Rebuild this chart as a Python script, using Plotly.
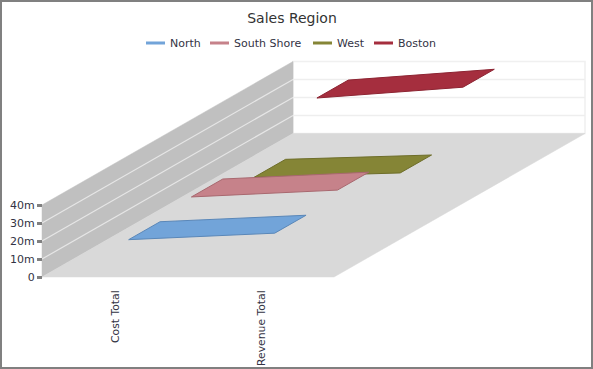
import plotly.graph_objects as go

categories = ["Cost Total", "Revenue Total"]
series_names = ["North", "South Shore", "West", "Boston"]
north = [16.4, 20.0]
south_shore = [20.2, 24.0]
west = [11.2, 13.6]
boston = [35.3, 41.3]
value_ticks = [0, 10, 20, 30, 40]
value_tick_labels = ["0", "10m", "20m", "30m", "40m"]

W, H = 593, 369
ORIGIN_X, ORIGIN_Y = 115.0, 277.0   # pixel of first category at value 0, depth 0
CAT_PX = 146.0                      # pixels per category step
VAL_PX = 1.8                        # pixels per value unit (millions)
DEPTH_DX, DEPTH_DY = 251.0, 143.5   # pixels of the full depth vector


def project(cat, depth, value):
    """Oblique projection of (category, depth 0..1, value) into axis units."""
    return (cat + depth * DEPTH_DX / CAT_PX, value + depth * DEPTH_DY / VAL_PX)


def poly(points):
    pts = [project(*p) for p in points] + [project(*points[0])]
    return [p[0] for p in pts], [p[1] for p in pts]


fig = go.Figure()
CAT_L, CAT_R = -0.5, 1.5
TOP = 40


def add_poly(points, fill, line=None, width=1):
    x, y = poly(points)
    fig.add_trace(go.Scatter(x=x, y=y, mode="lines", fill="toself", fillcolor=fill,
                             line=dict(color=line or fill, width=width),
                             showlegend=False, hoverinfo="skip"))


def add_line(p0, p1, color, width=1):
    x, y = poly([p0, p1])
    fig.add_trace(go.Scatter(x=x[:2], y=y[:2], mode="lines", line=dict(color=color, width=width),
                             showlegend=False, hoverinfo="skip"))


# back wall, left wall, floor
add_poly([(CAT_L, 1, 0), (CAT_R, 1, 0), (CAT_R, 1, TOP), (CAT_L, 1, TOP)], "#ffffff", "#f0f0f0", 1.5)
add_poly([(CAT_L, 0, 0), (CAT_L, 1, 0), (CAT_L, 1, TOP), (CAT_L, 0, TOP)], "#c0c0c0", "#c0c0c0", 0.5)
add_poly([(CAT_L, 0, 0), (CAT_R, 0, 0), (CAT_R, 1, 0), (CAT_L, 1, 0)], "#d9d9d9", "#d9d9d9", 0.5)
for v in value_ticks[1:-1]:
    add_line((CAT_L, 0, v), (CAT_L, 1, v), "#e6e6e6", 1.2)
    add_line((CAT_L, 1, v), (CAT_R, 1, v), "#eeeeee", 1.5)

# series, drawn from the back to the front
series = [north, south_shore, west, boston]
fills = ["#72a4d9", "#c6828a", "#858536", "#a52e3e"]
edges = ["#5a87b8", "#a8686f", "#6e6e2a", "#8d2432"]
legend_ids = ["legend", "legend2", "legend3", "legend4"]
BAND = 0.125
for i in [3, 2, 1, 0]:
    d0 = (i + 0.25) / 4 - 0.008
    d1 = d0 + BAND
    vals = series[i]
    x, y = poly([(0, d0, vals[0]), (1, d0, vals[1]), (1, d1, vals[1]), (0, d1, vals[0])])
    fig.add_trace(go.Scatter(x=x, y=y, mode="lines", fill="toself", fillcolor=fills[i],
                             line=dict(color=edges[i], width=1), name=series_names[i],
                             showlegend=False, hoverinfo="name"))

# legend keys: short thick line samples (first 10px of the 30px key are a gap)
for i in range(4):
    fig.add_trace(go.Scatter(x=[None], y=[None], mode="lines", name=series_names[i],
                             line=dict(color=fills[i], width=3, dash="0px,11px,19px,100px"),
                             legend=legend_ids[i]))

# legend anchor pixels (left of the 30px swatch box)
legend_left = [130, 194, 297, 358]
layout_legends = {}
for lid, left in zip(legend_ids, legend_left):
    layout_legends[lid] = dict(x=left / W, y=1 - 43 / H, xref="paper", yref="paper",
                               xanchor="left", yanchor="middle", bgcolor="rgba(0,0,0,0)",
                               font=dict(family="DejaVu Sans", size=11, color="#333344"))

fig.update_layout(
    width=W, height=H, margin=dict(l=0, r=0, t=0, b=0),
    paper_bgcolor="#ffffff", plot_bgcolor="#ffffff",
    title=dict(text="Sales Region", x=0.4924, xanchor="center", y=1 - 18 / H, yanchor="middle",
               font=dict(family="DejaVu Sans", size=14, color="#333333")),
    xaxis=dict(range=[-ORIGIN_X / CAT_PX, (W - ORIGIN_X) / CAT_PX], tickmode="array",
               tickvals=[0, 1], ticktext=categories, tickangle=-90, anchor="free",
               position=(H - ORIGIN_Y) / H, showgrid=False, zeroline=False, showline=False,
               ticks="outside", ticklen=8, tickcolor="rgba(0,0,0,0)",
               tickfont=dict(family="DejaVu Sans", size=10.8, color="#333344"), automargin=False),
    yaxis=dict(range=[(ORIGIN_Y - H) / VAL_PX, ORIGIN_Y / VAL_PX], tickmode="array",
               tickvals=value_ticks, ticktext=value_tick_labels, anchor="free",
               position=42 / W, showgrid=False, zeroline=False, showline=False,
               ticks="outside", ticklen=5, tickwidth=3, tickcolor="#808080",
               tickfont=dict(family="DejaVu Sans", size=11, color="#333344"), automargin=False),
    shapes=[dict(type="rect", xref="paper", yref="paper", x0=1 / W, x1=1 - 1 / W, y0=1 / H, y1=1 - 1 / H,
                 line=dict(color="#808080", width=2), layer="above")],
    **layout_legends,
)
fig.write_html("out.html", config={"displayModeBar": False},
               post_script="document.body.style.margin='0';document.body.style.overflow='hidden';")
